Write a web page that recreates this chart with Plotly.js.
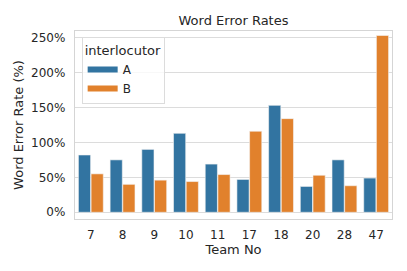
<!DOCTYPE html>
<html><head><meta charset="utf-8">
<script src="https://cdn.plot.ly/plotly-3.0.1.min.js"></script>
<style>html,body{margin:0;padding:0;background:#fff}#chart{width:407px;height:271px}</style>
</head><body><div id="chart"></div>
<script>
const teams = ["7","8","9","10","11","17","18","20","28","47"];
const werA = [82, 75, 90, 113, 69, 47, 153, 37, 75, 49];
const werB = [55, 40, 46, 44, 54, 116, 134, 53, 38, 253];
const seriesNames = ["A", "B"];
const seriesColors = ["#3274a1", "#e1812c"];
const yTicks = [0, 50, 100, 150, 200, 250];
const yTickText = yTicks.map(v => v + "%");

const FAM = "DejaVu Sans";
const tickFont = {family: FAM, size: 12, color: "#262626"};
const labFont = {family: FAM, size: 13, color: "#262626"};
const vals = [werA, werB];
const traces = [];
vals.forEach((v, i) => {
  traces.push({type: "bar", x: teams, y: v, name: seriesNames[i], showlegend: false,
    marker: {color: seriesColors[i], line: {color: "#f4f4f4", width: 0.6}}});
});
vals.forEach((v, i) => {
  traces.push({type: "scatter", mode: "lines", x: [null], y: [null], name: seriesNames[i],
    line: {color: seriesColors[i], width: 6}});
});
const layout = {
  width: 407, height: 271,
  margin: {l: 75, r: 15, t: 31, b: 52},
  paper_bgcolor: "#ffffff", plot_bgcolor: "#ffffff",
  font: tickFont,
  barmode: "group", bargap: 0.2, bargroupgap: 0.04,
  title: {text: "Word Error Rates", font: labFont,
          xref: "paper", x: 0.5, xanchor: "center", y: 1 - 20.5/271, yanchor: "middle"},
  xaxis: {type: "category", range: [-0.5, 9.5], showgrid: false, zeroline: false,
          showline: true, mirror: true, linecolor: "#d5d5d5", linewidth: 1.2,
          ticks: "", tickfont: tickFont, ticklabelstandoff: 4,
          title: {text: "Team No", font: labFont, standoff: 2}},
  yaxis: {range: [-9.6, 259.4], tickmode: "array", tickvals: yTicks, ticktext: yTickText,
          showgrid: true, gridcolor: "#dcdcdc", gridwidth: 1, zeroline: false,
          showline: true, mirror: true, linecolor: "#d5d5d5", linewidth: 1.2,
          ticks: "", tickfont: tickFont, ticklabelstandoff: 6,
          title: {text: "Word Error Rate (%)", font: labFont, standoff: 4}},
  legend: {x: 0.021, y: 0.968, xanchor: "left", yanchor: "top",
           bgcolor: "rgba(255,255,255,0.8)", bordercolor: "#dcdcdc", borderwidth: 1,
           font: tickFont, title: {text: "interlocutor", font: labFont},
           itemwidth: 30, tracegroupgap: 0}
};
Plotly.newPlot("chart", traces, layout, {staticPlot: true, displayModeBar: false});
</script></body></html>
